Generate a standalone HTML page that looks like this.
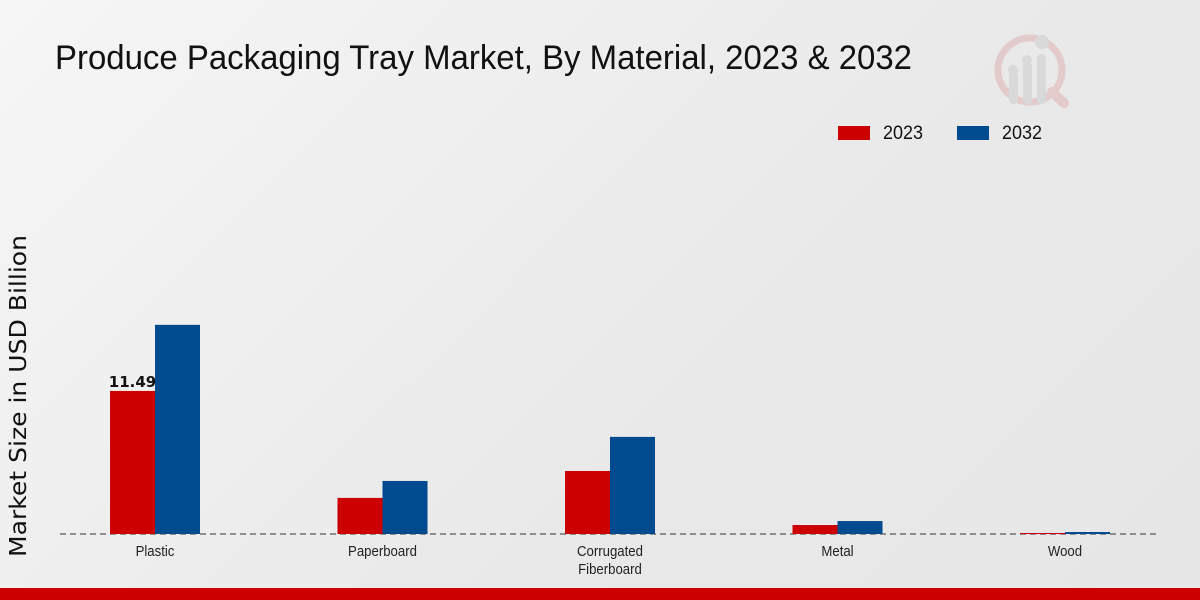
<!DOCTYPE html>
<html><head><meta charset="utf-8"><style>
body{margin:0;width:1200px;height:600px;overflow:hidden;font-family:"Liberation Sans",sans-serif;}
#wrap{position:relative;width:1200px;height:600px;background:linear-gradient(135deg,#f6f6f6 0%,#e9e9e9 60%,#e6e6e6 100%);}
</style></head><body>
<div id="wrap">
<svg id="chart" width="1200" height="600" style="position:absolute;left:0;top:0">
<g opacity="0.6">
<circle cx="1030" cy="70" r="32" fill="none" stroke="#e2b8b8" stroke-width="7"/>
<line x1="1052" y1="92" x2="1064" y2="103" stroke="#e2b8b8" stroke-width="10" stroke-linecap="round"/>
<rect x="1009" y="72" width="9" height="32" rx="4" fill="#cfcfcf"/>
<rect x="1023" y="62" width="9" height="42" rx="4" fill="#cfcfcf"/>
<rect x="1037" y="54" width="9" height="50" rx="4" fill="#cfcfcf"/>
<circle cx="1013" cy="70" r="5" fill="#cfcfcf"/><circle cx="1027" cy="60" r="5" fill="#cfcfcf"/><circle cx="1042" cy="42" r="7" fill="#cfcfcf"/>
</g>
<text x="55" y="69" font-size="34" fill="#111" textLength="857" lengthAdjust="spacingAndGlyphs">Produce Packaging Tray Market, By Material, 2023 &amp; 2032</text>
<g>
<rect x="838" y="126" width="32" height="14" fill="#cc0000"/>
<text x="883" y="139" font-size="19" fill="#111" textLength="40" lengthAdjust="spacingAndGlyphs">2023</text>
<rect x="957" y="126" width="32" height="14" fill="#004a8f"/>
<text x="1002" y="139" font-size="19" fill="#111" textLength="40" lengthAdjust="spacingAndGlyphs">2032</text>
</g>
<text transform="translate(26,396) rotate(-90)" text-anchor="middle" font-size="23" fill="#111" textLength="322" lengthAdjust="spacingAndGlyphs" style="font-family:'DejaVu Sans',sans-serif">Market Size in USD Billion</text>
<line x1="60" y1="534" x2="1160" y2="534" stroke="#333" stroke-dasharray="6,4"/>
<g id="bars"></g>
<rect x="0" y="588" width="1200" height="12" fill="#cc0000"/>
</svg>
</div>
<script>
const categories=[["Plastic"],["Paperboard"],["Corrugated","Fiberboard"],["Metal"],["Wood"]];
const values2023=[11.49,2.9,5.06,0.72,0.08];
const values2032=[16.8,4.26,7.8,1.04,0.16];
const labels2023=["11.49","","","",""];
const ns="http://www.w3.org/2000/svg";
const g=document.getElementById('bars');
const baseY=534, pxPer=12.45, x0=155, step=227.5, bw=45;
function xC(i){return x0+i*step;}
function yS(v){return baseY-v*pxPer;}
function mk(t,a){const e=document.createElementNS(ns,t);for(const k in a)e.setAttribute(k,a[k]);g.appendChild(e);return e;}
categories.forEach((c,i)=>{
  const r1=mk('rect',{x:xC(i)-bw,y:yS(values2023[i]),width:bw,height:baseY-yS(values2023[i]),fill:'#cc0000'});
  
  
  const r2=mk('rect',{x:xC(i),y:yS(values2032[i]),width:bw,height:baseY-yS(values2032[i]),fill:'#004a8f'});
  
  
  if(labels2023[i]){
    const t=mk('text',{x:xC(i)-bw/2,y:yS(values2023[i])-4,'text-anchor':'middle','font-size':'15','font-weight':'bold',fill:'#111','font-family':'DejaVu Sans, sans-serif'});
    t.textContent=labels2023[i];
    
    
  }
  c.forEach((line,j)=>{
    const t=mk('text',{x:xC(i),y:556+j*18,'text-anchor':'middle','font-size':'15',fill:'#222'});
    t.setAttribute('transform','translate('+xC(i)+',0) scale(0.88,1) translate('+(-xC(i))+',0)');
    t.textContent=line;
    
    
  });
});
</script>
</body></html>
